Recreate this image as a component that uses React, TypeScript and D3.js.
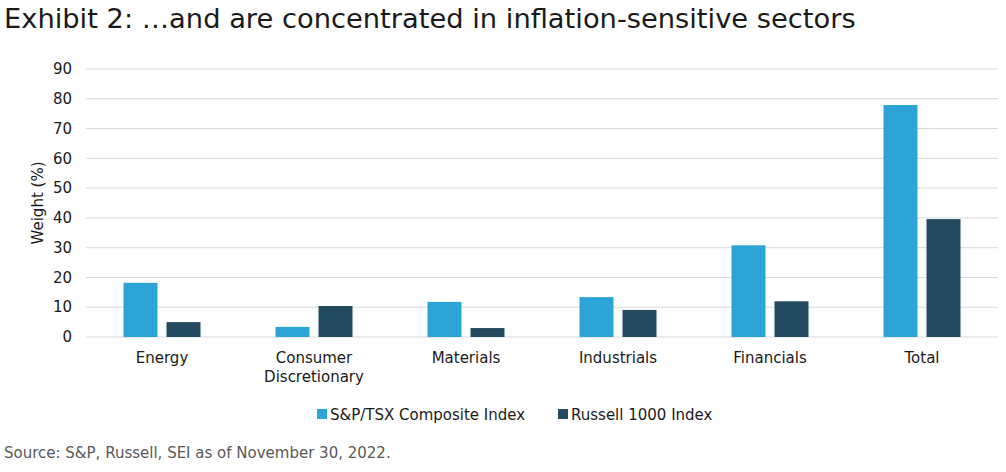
import { useEffect, useRef } from 'react';
import * as d3 from 'd3';

const categories = ['Energy', 'Consumer\nDiscretionary', 'Materials', 'Industrials', 'Financials', 'Total'];
const tsxValues = [18.2, 3.4, 11.8, 13.4, 30.8, 77.9];
const russellValues = [5.0, 10.4, 3.0, 9.1, 12.0, 39.6];
const seriesNames = ['S&P/TSX Composite Index', 'Russell 1000 Index'];
const yTicks = [0, 10, 20, 30, 40, 50, 60, 70, 80, 90];

const COLORS = ['#2ca4d7', '#234a5e'];
const FONT = '"DejaVu Sans", sans-serif';

export default function App() {
  const svgRef = useRef<SVGSVGElement | null>(null);

  useEffect(() => {
    if (!svgRef.current) return;
    document.body.style.margin = '0';
    const svg = d3.select(svgRef.current);
    svg.selectAll('*').remove();

    const width = 1006;
    const height = 472;
    const margin = { top: 69, right: 8, bottom: 135, left: 86 };
    const innerW = width - margin.left - margin.right;
    const innerH = height - margin.top - margin.bottom;

    svg.attr('width', width).attr('height', height).style('font-family', FONT);

    // Title
    svg.append('text')
      .attr('x', 4)
      .attr('y', 28)
      .attr('font-size', 27.3)
      .attr('fill', '#1a1a1a')
      .text('Exhibit 2: …and are concentrated in inflation-sensitive sectors');

    const g = svg.append('g').attr('transform', `translate(${margin.left},${margin.top})`);

    const x = d3.scaleBand<number>()
      .domain(d3.range(categories.length))
      .range([0, innerW]);

    const y = d3.scaleLinear().domain([0, 90]).range([innerH, 0]);

    // Gridlines
    g.selectAll('.grid')
      .data(yTicks)
      .enter()
      .append('line')
      .attr('x1', 0)
      .attr('x2', innerW)
      .attr('y1', d => y(d))
      .attr('y2', d => y(d))
      .attr('stroke', '#d9d9d9')
      .attr('stroke-width', 1);

    // Y tick labels
    g.selectAll('.ytick')
      .data(yTicks)
      .enter()
      .append('text')
      .attr('x', -14)
      .attr('y', d => y(d))
      .attr('dy', '0.35em')
      .attr('text-anchor', 'end')
      .attr('font-size', 15)
      .attr('fill', '#1a1a1a')
      .text(d => d);

    // Y axis label
    g.append('text')
      .attr('transform', 'rotate(-90)')
      .attr('x', -innerH / 2)
      .attr('y', -43)
      .attr('text-anchor', 'middle')
      .attr('font-size', 15)
      .attr('fill', '#1a1a1a')
      .text('Weight (%)');

    // Bars
    const barW = 34;
    const gap = 9;
    const series = [tsxValues, russellValues];
    series.forEach((vals, si) => {
      g.selectAll(`.bar-${si}`)
        .data(vals)
        .enter()
        .append('rect')
        .attr('x', (_, i) => (x(i) as number) + x.bandwidth() / 2 + (si === 0 ? -(barW + gap / 2) : gap / 2))
        .attr('y', d => y(d))
        .attr('width', barW)
        .attr('height', d => innerH - y(d))
        .attr('fill', COLORS[si]);
    });

    // X labels
    const xl = g.selectAll('.xlabel')
      .data(categories)
      .enter()
      .append('text')
      .attr('text-anchor', 'middle')
      .attr('font-size', 15)
      .attr('fill', '#1a1a1a')
      .attr('transform', (_, i) => `translate(${(x(i) as number) + x.bandwidth() / 2},${innerH + 26})`);
    xl.each(function (d) {
      const t = d3.select(this);
      d.split('\n').forEach((line, li) => {
        t.append('tspan').attr('x', 0).attr('dy', li === 0 ? 0 : 19).text(line);
      });
    });

    // Legend
    const legendX = [317, 558];
    seriesNames.forEach((name, i) => {
      svg.append('rect')
        .attr('x', legendX[i])
        .attr('y', 409)
        .attr('width', 10)
        .attr('height', 10)
        .attr('fill', COLORS[i]);
      svg.append('text')
        .attr('x', legendX[i] + 13)
        .attr('y', 420)
        .attr('font-size', 15)
        .attr('fill', '#1a1a1a')
        .text(name);
    });

    // Source
    svg.append('text')
      .attr('x', 4)
      .attr('y', 458)
      .attr('font-size', 15)
      .attr('fill', '#595959')
      .text('Source: S&P, Russell, SEI as of November 30, 2022.');
  }, []);

  return <svg ref={svgRef} style={{ display: 'block' }} />;
}
